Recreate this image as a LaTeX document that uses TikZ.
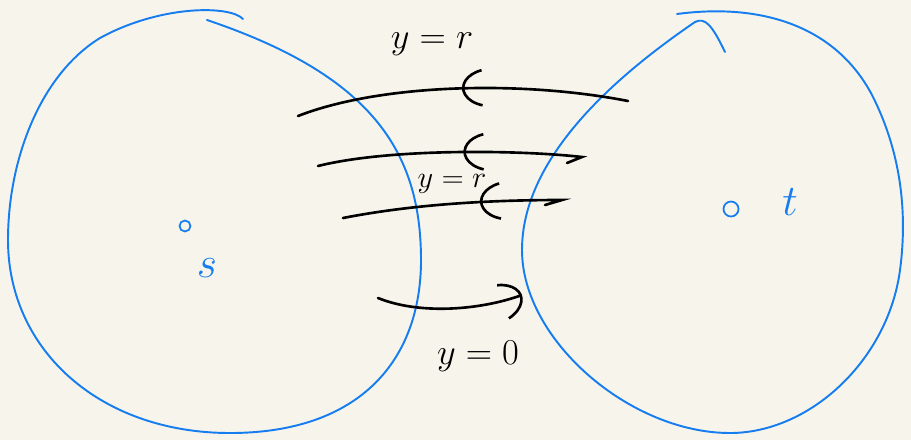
\documentclass[tikz,border=0pt]{standalone}
\usepackage{fontspec}
\usetikzlibrary{arrows.meta,decorations.markings}

\definecolor{paper}{RGB}{247,245,235}
\definecolor{pen}{RGB}{22,125,240}

\tikzset{
 setline/.style={draw=pen,line width=1.1pt,line cap=round,line join=round},
 flowline/.style={draw=black,line width=1.5pt,line cap=round},
 handtip/.tip={Arc Barb[arc=140,length=6mm,width=8mm,line width=1.5pt]},
 backtip/.style={postaction={decorate},decoration={markings,
   mark=at position #1 with {\arrowreversed{handtip}}}},
 pointdot/.style={draw=pen,line width=1pt,circle,inner sep=0pt,minimum size=#1},
 setname/.style={text=pen,font=\fontsize{40}{44}\selectfont},
 cutname/.style={font=\fontsize{#1}{#1}\selectfont}
}

\begin{document}
\begin{tikzpicture}[x=0.02cm,y=-0.02cm]
\fill[paper] (0,0) rectangle (911,440);
\useasboundingbox (0,0) rectangle (911,440);

% set S
\draw[setline] (243,19) .. controls (230,5) and (160,5) .. (100,38)
 .. controls (40,75) and (8,160) .. (8,240)
 .. controls (8,350) and (100,433) .. (230,433)
 .. controls (360,433) and (421,360) .. (421,260)
 .. controls (421,150) and (370,75) .. (207,20);
% set T
\draw[setline] (677,14) .. controls (760,3) and (835,25) .. (872,95)
 .. controls (900,150) and (908,210) .. (900,270)
 .. controls (888,360) and (810,433) .. (730,433)
 .. controls (630,433) and (522,340) .. (522,250)
 .. controls (522,160) and (610,80) .. (695,22)
 .. controls (705,17) and (712,25) .. (725,52);

\node[pointdot=2.2mm] (sdot) at (185,226) {};
\node[pointdot=3mm] (tdot) at (731,209) {};
\node[setname] (sname) at (207,268) {$s$};
\node[setname] (tname) at (790,202) {$t$};

% cut edges
\coordinate (a1) at (298,116); \coordinate (b1) at (628,101);
\coordinate (a2) at (318,166); \coordinate (b2) at (582,157);
\coordinate (a3) at (343,218); \coordinate (b3) at (562,200);
\coordinate (a4) at (378,298); \coordinate (b4) at (522,295);

\draw[flowline,backtip=0.5] (a1) .. controls (380,84) and (520,80) .. (b1);
\draw[flowline,backtip=0.52] (a2) .. controls (390,148) and (520,150) .. (b2) -- ++(-15,6);
\draw[flowline,backtip=0.58] (a3) .. controls (420,203) and (500,200) .. (b3) -- ++(-17,5);
\draw[flowline,-handtip] (a4) .. controls (420,315) and (480,310) .. (b4);

\node[cutname=22] (ytop) at (432,44) {$y=r$};
\node[cutname=18] (ymid) at (452,184) {$y=r$};
\node[cutname=22] (ybot) at (478,356) {$y=0$};
\end{tikzpicture}
\end{document}
